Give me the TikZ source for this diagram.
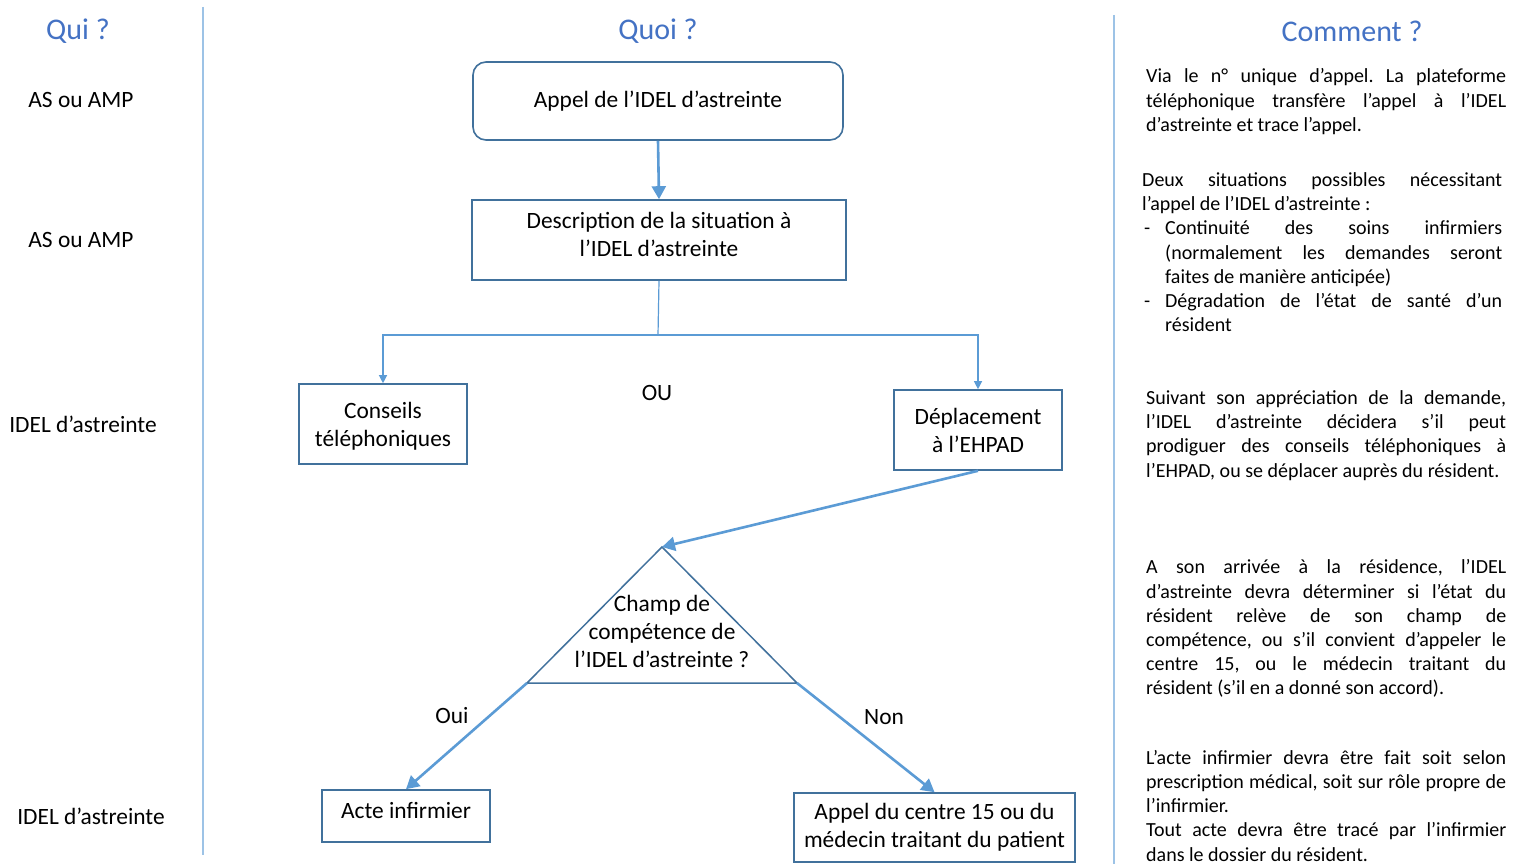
\documentclass[tikz,border=0pt]{standalone}
\usepackage{fontspec}
\setmainfont{Carlito}
\usetikzlibrary{arrows.meta}
\definecolor{titleblue}{HTML}{4472C4}
\definecolor{boxline}{HTML}{41719C}
\definecolor{arrowblue}{HTML}{5B9BD5}
\definecolor{sepblue}{HTML}{9DC3E6}
\hyphenpenalty=10000\relax
\exhyphenpenalty=10000\relax
\frenchspacing
\begin{document}
\begin{tikzpicture}[x=1pt,y=-1pt,
  title/.style={text=titleblue,font=\fontsize{30}{36}\selectfont},
  who/.style={font=\fontsize{23.4}{28}\selectfont},
  box/.style={draw=boxline,line width=1.6pt,align=center,inner sep=0pt,font=\fontsize{23.4}{28}\selectfont},
  bigarrow/.style={draw=arrowblue,line width=2.6pt,-{Triangle[length=13pt,width=14pt]}},
  thinline/.style={draw=arrowblue,line width=1.2pt},
  thinarrow/.style={thinline,-{Triangle[length=8pt,width=8pt]}},
  sep/.style={draw=sepblue,line width=1.4pt},
  note/.style={anchor=north west,inner sep=0pt,text width=360pt,align=justify,
    font=\fontsize{20}{24.2}\selectfont\frenchspacing}
]
\useasboundingbox (0,0) rectangle (1518,864);
\fill[white] (0,0) rectangle (1518,864);

% separators
\draw[sep] (203,7) -- (203,855);
\draw[sep] (1114,15) -- (1114,864);

% titles
\node[title] (tqui) at (78,31) {Qui ?};
\node[title] (tquoi) at (658,31) {Quoi ?};
\node[title] (tcomment) at (1352,31) {Comment ?};

% who labels
\node[who] (w1) at (81,100) {AS ou AMP};
\node[who] (w2) at (81,240) {AS ou AMP};
\node[who] (w3) at (83,424) {IDEL d’astreinte};
\node[who] (w4) at (91,816) {IDEL d’astreinte};

% boxes
\node[box,rounded corners=13pt,minimum width=370pt,minimum height=78pt] (b1) at (658,101) {Appel de l’IDEL d’astreinte};
\node[box,minimum width=374pt,minimum height=80pt] (b2) at (659,240) {\raisebox{-3pt}[0pt][0pt]{\begin{tabular}{@{}c@{}}Description de la situation à\\l’IDEL d’astreinte\end{tabular}}};
\node[box,minimum width=168pt,minimum height=80pt] (cons) at (383,424) {\raisebox{-8.8pt}[0pt][0pt]{\begin{tabular}{@{}c@{}}Conseils\\téléphoniques\end{tabular}}};
\node[box,minimum width=168pt,minimum height=80pt] (depl) at (978,430) {Déplacement\\à l’EHPAD};
\node[box,minimum width=168pt,minimum height=52pt] (acte) at (406,816) {\raisebox{-2.5pt}[0pt][0pt]{Acte infirmier}};
\node[box,minimum width=281pt,minimum height=69pt] (appel) at (934.5,827.5) {Appel du centre 15 ou du\\médecin traitant du patient};

\node[who] (ou) at (657,393) {OU};

% triangle decision
\coordinate (apex) at (662,547);
\coordinate (bl) at (527,683);
\coordinate (br) at (797,683);
\draw[boxline,line width=1.5pt,line join=miter] (apex) -- (bl) -- (br) -- cycle;
\node[who,align=center,inner sep=0pt] (q) at (662,631) {Champ de\\compétence de\\l’IDEL d’astreinte ?};

% connectors
\draw[bigarrow] (b1.south) -- (b2.north);
\coordinate (fork) at (658,335);
\draw[thinline] (b2.south) -- (fork);
\draw[thinarrow] (fork) -| (cons.north);
\draw[thinarrow] (fork) -| (depl.north);
\draw[bigarrow] (depl.south) -- (apex);
\draw[bigarrow] (bl) -- (acte.north);
\draw[bigarrow] (br) -- (appel.north);

\node[who] (oui) at (452,716) {Oui};
\node[who] (non) at (884,717) {Non};

% notes
\node[note] (n1) at (1146,68.5) {Via le n° unique d’appel. La plateforme\linebreak téléphonique transfère l’appel à l’IDEL\linebreak d’astreinte et trace l’appel.\par};
\node[note] (n2) at (1142,172.5) {Deux situations possibles nécessitant\linebreak l’appel de l’IDEL d’astreinte :\par
\hangindent=23pt\hangafter=1\noindent\hspace*{2pt}\makebox[21pt][l]{-}Continuité des soins infirmiers\linebreak (normalement les demandes seront\linebreak faites de manière anticipée)\par
\hangindent=23pt\hangafter=1\noindent\hspace*{2pt}\makebox[21pt][l]{-}Dégradation de l’état de santé d’un\linebreak résident\par};
\node[note] (n3) at (1146,390.5) {Suivant son appréciation de la demande,\linebreak l’IDEL d’astreinte décidera s’il peut\linebreak prodiguer des conseils téléphoniques à\linebreak l’EHPAD, ou se déplacer auprès du résident.\par};
\node[note] (n4) at (1146,559.5) {A son arrivée à la résidence, l’IDEL\linebreak d’astreinte devra déterminer si l’état du\linebreak résident relève de son champ de\linebreak compétence, ou s’il convient d’appeler le\linebreak centre 15, ou le médecin traitant du\linebreak résident (s’il en a donné son accord).\par};
\node[note] (n5) at (1146,750) {L’acte infirmier devra être fait soit selon\linebreak prescription médical, soit sur rôle propre de\linebreak l’infirmier.\par Tout acte devra être tracé par l’infirmier\linebreak dans le dossier du résident.\par};
\end{tikzpicture}
\end{document}
